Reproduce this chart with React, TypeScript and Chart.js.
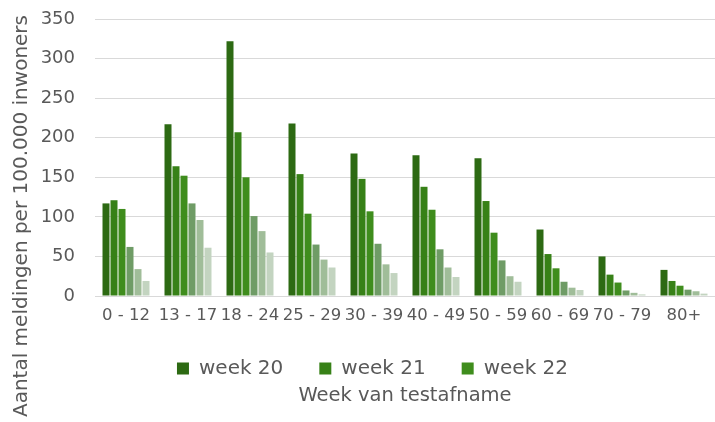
import React, { useEffect, useRef } from "react";
import { Chart, registerables } from "chart.js";

Chart.register(...registerables);

const categories = ["0 - 12", "13 - 17", "18 - 24", "25 - 29", "30 - 39", "40 - 49", "50 - 59", "60 - 69", "70 - 79", "80+"];
const seriesNames = ["week 20", "week 21", "week 22", "week 23", "week 24", "week 25"];
const week20 = [117, 217, 322, 218, 180, 178, 174, 84, 50, 33];
const week21 = [121, 164, 207, 154, 148, 138, 120, 53, 27, 19];
const week22 = [110, 152, 150, 104, 107, 109, 80, 35, 17, 13];
const week23 = [62, 117, 101, 65, 66, 59, 45, 18, 7, 8];
const week24 = [34, 96, 82, 46, 40, 36, 25, 10.5, 4, 6];
const week25 = [19, 61, 55, 36, 29, 24, 18, 7.6, 2, 3];
const seriesValues = [week20, week21, week22, week23, week24, week25];
const seriesColors = ["#2d6a13", "#378117", "#3f8d1d", "#6f9c66", "#a0bd99", "#c3d4c0"];
const yTicks = [0, 50, 100, 150, 200, 250, 300, 350];
const yTitle = "Aantal meldingen per 100.000 inwoners";
const xTitle = "Week van testafname";

const FONT = '"DejaVu Sans", Verdana, sans-serif';
const TEXT = "#595959";

const yTitlePlugin = {
  id: "yTitleCustom",
  afterDraw(chart: any) {
    const ctx = chart.ctx;
    ctx.save();
    ctx.translate(22, 216);
    ctx.rotate(-Math.PI / 2);
    ctx.font = `20px ${FONT}`;
    ctx.fillStyle = TEXT;
    ctx.textAlign = "center";
    ctx.textBaseline = "middle";
    ctx.fillText(yTitle, 0, 0);
    ctx.restore();
  },
};

export default function App() {
  const ref = useRef<HTMLCanvasElement | null>(null);
  useEffect(() => {
    if (!ref.current) return;
    const chart = new Chart(ref.current, {
      type: "bar",
      data: {
        labels: categories,
        datasets: seriesValues.map((vals, i) => ({
          label: seriesNames[i],
          data: vals,
          backgroundColor: seriesColors[i],
          borderWidth: 0,
          categoryPercentage: 0.774,
          barPercentage: 0.875,
        })),
      },
      options: {
        responsive: false,
        animation: false,
        layout: { padding: { left: 30, right: 0, top: 19, bottom: 0 } },
        plugins: {
          tooltip: { enabled: false },
          legend: {
            position: "bottom",
            labels: {
              filter: (item: any) => item.datasetIndex < 3,
              boxWidth: 12,
              boxHeight: 12,
              padding: 36,
              color: TEXT,
              font: { family: FONT, size: 20 },
            },
          },
          title: {
            display: true,
            position: "bottom",
            fullSize: false,
            text: xTitle,
            color: TEXT,
            font: { family: FONT, size: 19.5, weight: "normal" },
            padding: { top: -4.2, bottom: 14.3 },
          },
        },
        scales: {
          x: {
            afterFit: (s: any) => {
              s.height = 26.5;
            },
            grid: { display: false, drawTicks: false },
            border: { display: true, color: "#d9d9d9", width: 1 },
            ticks: {
              autoSkip: false,
              maxRotation: 0,
              minRotation: 0,
              padding: 10,
              color: TEXT,
              font: { family: FONT, size: 16.5 },
            },
          },
          y: {
            min: 0,
            max: 350,
            afterFit: (s: any) => {
              s.width = 65;
              s.paddingTop = 0;
              s.paddingBottom = 0;
            },
            afterBuildTicks: (s: any) => {
              s.ticks = yTicks.map((v) => ({ value: v }));
            },
            grid: { color: "#d9d9d9", drawTicks: false, lineWidth: 1 },
            border: { display: false },
            ticks: {
              padding: 20,
              color: TEXT,
              font: { family: FONT, size: 18 },
            },
          },
        },
      },
      plugins: [yTitlePlugin],
    });
    return () => chart.destroy();
  }, []);
  return (
    <div style={{ position: "fixed", left: 0, top: 0, width: 715, height: 422, background: "#fff" }}>
      <canvas ref={ref} width={715} height={422} style={{ width: 715, height: 422, display: "block" }} />
    </div>
  );
}
